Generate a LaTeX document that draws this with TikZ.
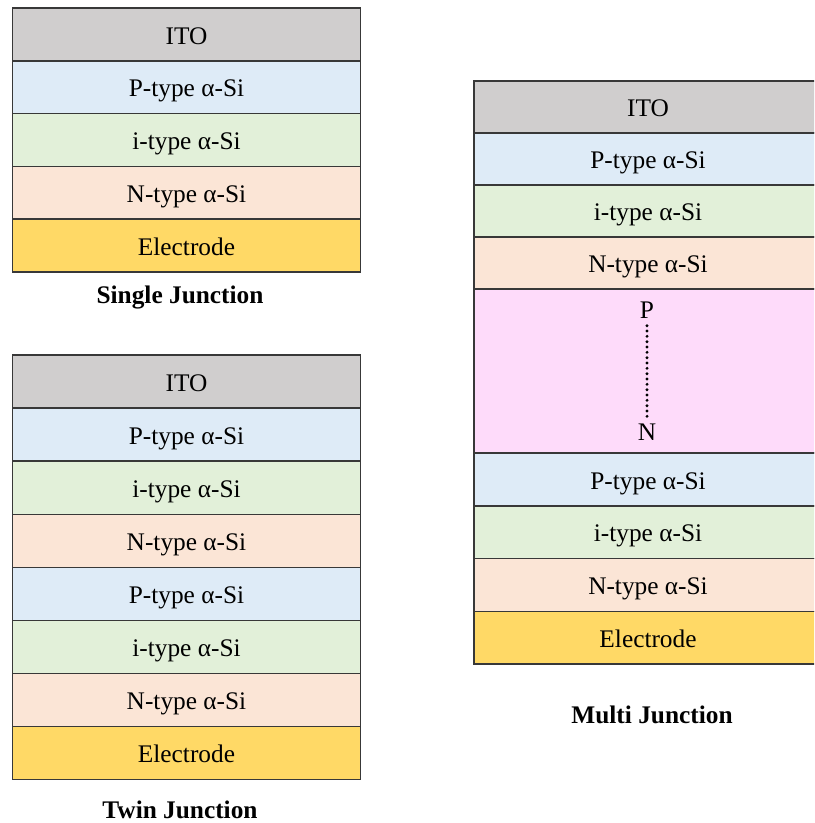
\documentclass[tikz,border=0pt]{standalone}
\usepackage{fontspec}
\setmainfont{Liberation Serif}
\usepackage{xcolor}

% ── Layer fills ──────────────────────────────────────────────────────────────
\definecolor{Cito}{RGB}{208,206,206}   % grey  – ITO
\definecolor{Cpt}{RGB}{222,235,247}    % blue  – P-type
\definecolor{Cit}{RGB}{226,240,217}    % green – i-type
\definecolor{Cnt}{RGB}{251,229,214}    % peach – N-type
\definecolor{Cel}{RGB}{255,217,102}    % amber – electrode
\definecolor{Cgap}{RGB}{254,219,250}   % pink  – repeated P..N cells

\begin{document}
\begin{tikzpicture}[x=0.75pt,y=-0.75pt,
  font=\fontsize{19}{22}\selectfont,
  layer/.style={draw=black!78,line width=1.1pt,minimum width=261pt,
    minimum height=39.6pt,inner sep=0pt,outer sep=0pt,
    text height=14.5pt,text depth=0pt},
  caption/.style={font=\fontsize{19}{22}\selectfont\bfseries}]

% Canvas: 814 x 823 px, 1 px = 0.75pt, y grows downwards.
%   layer pitch = 52.8 px, stack width = 348 px
\fill[white] (0,0) rectangle (814,823);
\useasboundingbox (0,0) rectangle (814,823);
\clip (0,0) rectangle (814,823);

% ── Single junction (top left) ───────────────────────────────────────────────
\foreach \k/\col/\txt in {0/Cito/ITO, 1/Cpt/{P-type α-Si}, 2/Cit/{i-type α-Si},
    3/Cnt/{N-type α-Si}, 4/Cel/Electrode}
  \node[layer,fill=\col] (single\k) at (186.5,34.4+52.8*\k) {\txt};
\node[caption] (singlecap) at (180,298) {Single Junction};

% ── Twin junction (bottom left) ──────────────────────────────────────────────
\foreach \k/\col/\txt in {0/Cito/ITO, 1/Cpt/{P-type α-Si}, 2/Cit/{i-type α-Si},
    3/Cnt/{N-type α-Si}, 4/Cpt/{P-type α-Si}, 5/Cit/{i-type α-Si},
    6/Cnt/{N-type α-Si}, 7/Cel/Electrode}
  \node[layer,fill=\col,minimum height=39.8pt] (twin\k) at (186.5,381.5+53.1*\k) {\txt};
\node[caption] (twincap) at (180,810) {Twin Junction};

% ── Multi junction (right, runs off the edge) ────────────────────────────────
\foreach \k/\col/\txt in {0/Cito/ITO, 1/Cpt/{P-type α-Si}, 2/Cit/{i-type α-Si},
    3/Cnt/{N-type α-Si}}
  \node[layer,fill=\col,minimum height=39pt] (multi\k) at (648,107+52*\k) {\txt};

% stacked cells between the two outer junctions
\node[layer,fill=Cgap,minimum height=123pt] (gap) at (648,371) {};
\node (pP) at (647,310) {P};
\node (pN) at (647,432) {N};
\draw[line width=2.4pt,line cap=round,dash pattern=on 0pt off 4pt,
  shorten <=2pt] (pP) -- (pN);

\foreach \k/\col/\txt in {0/Cpt/{P-type α-Si}, 1/Cit/{i-type α-Si},
    2/Cnt/{N-type α-Si}, 3/Cel/Electrode}
  \node[layer,fill=\col] (multib\k) at (648,479.4+52.8*\k) {\txt};
\node[caption] (multicap) at (652,715) {Multi Junction};

\end{tikzpicture}
\end{document}
